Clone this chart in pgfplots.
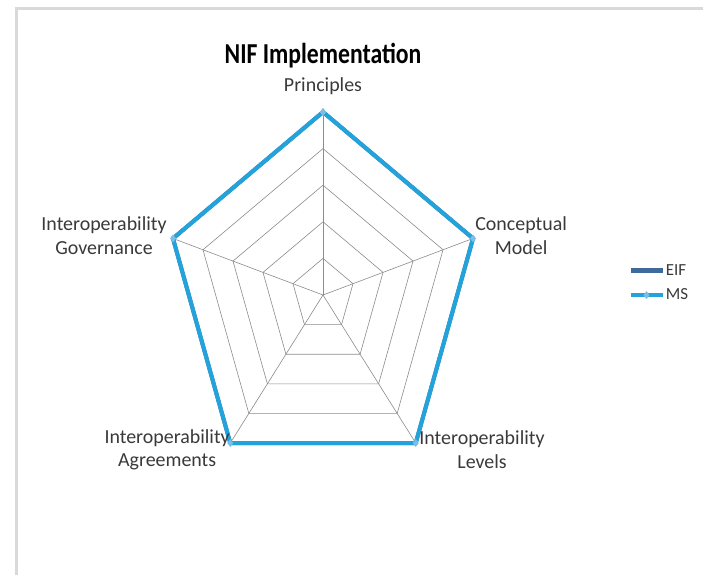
\documentclass[border=0pt]{standalone}
\usepackage{pgfplots}
\pgfplotsset{compat=1.18}
\usepackage{fontspec}
\setmainfont{Carlito}

\definecolor{msblue}{HTML}{23A3DC}
\definecolor{msmark}{HTML}{7DBDE8}
\definecolor{eifblue}{HTML}{3F6A9C}
\definecolor{gridgray}{HTML}{8C8C8C}
\definecolor{labgray}{HTML}{3A3A3A}
\definecolor{framegray}{HTML}{D9D9D9}

\begin{document}
\begin{tikzpicture}[x=1bp,y=1bp]
  \path[use as bounding box] (0,0) rectangle (703,-575);
  \clip (0,0) rectangle (703,-575);
  \fill[white] (0,0) rectangle (703,-575);
  % chart frame (cut off at right and bottom)
  \draw[framegray, line width=3bp] (16,-600) -- (16,-9) -- (720,-9);

  \node[font=\fontsize{29}{32}\selectfont\bfseries, xscale=0.82] at (323,-56) {NIF Implementation};

  \begin{axis}[
      at={(323bp,-295bp)}, anchor=origin,
      x=31.55bp, y=36.6bp,
      xmin=-5, xmax=5, ymin=-5, ymax=5,
      hide axis, clip=false,
      data cs=polar,
      legend style={at={(1.467,0.533)}, anchor=west, draw=none, fill=none,
        font=\fontsize{17}{20}\selectfont\color{labgray},
        row sep=8bp, inner sep=0pt,
        nodes={inner xsep=1bp}},
      legend cell align=left,
      legend image code/.code={
        \draw[mark repeat=2, mark phase=2, line width=4.5bp]
          plot coordinates {(0bp,0bp) (16bp,0bp) (32bp,0bp)};},
  ]
    % web grid: rings 1..5
    \addplot[gridgray, line width=0.6bp, forget plot] coordinates {(90,1) (18,1) (-54,1) (-126,1) (162,1) (90,1)};
    \addplot[gridgray, line width=0.6bp, forget plot] coordinates {(90,2) (18,2) (-54,2) (-126,2) (162,2) (90,2)};
    \addplot[gridgray, line width=0.6bp, forget plot] coordinates {(90,3) (18,3) (-54,3) (-126,3) (162,3) (90,3)};
    \addplot[gridgray, line width=0.6bp, forget plot] coordinates {(90,4) (18,4) (-54,4) (-126,4) (162,4) (90,4)};
    \addplot[gridgray, line width=0.6bp, forget plot] coordinates {(90,5) (18,5) (-54,5) (-126,5) (162,5) (90,5)};
    % spokes
    \addplot[gridgray, line width=0.6bp, forget plot] coordinates {(90,0) (90,5)};
    \addplot[gridgray, line width=0.6bp, forget plot] coordinates {(18,0) (18,5)};
    \addplot[gridgray, line width=0.6bp, forget plot] coordinates {(-54,0) (-54,5)};
    \addplot[gridgray, line width=0.6bp, forget plot] coordinates {(-126,0) (-126,5)};
    \addplot[gridgray, line width=0.6bp, forget plot] coordinates {(162,0) (162,5)};

    % EIF
    \addplot[eifblue, line width=4bp, line join=round, mark=none]
      coordinates {(90,5) (18,5) (-54,5) (-126,5) (162,5) (90,5)};
    \addlegendentry{EIF}
    % MS
    \addplot[msblue, line width=4bp, line join=round,
      mark=diamond*, mark size=3.5bp,
      mark options={fill=msmark, draw=msmark, line width=0.5bp}]
      coordinates {(90,5) (18,5) (-54,5) (-126,5) (162,5) (90,5)};
    \addlegendentry{MS}

    % category labels
    \begin{scope}[every node/.style={font=\fontsize{20}{24}\selectfont, text=labgray, align=center}]
      \node at (axis cs:0,5.71) {Principles};
      \node at (axis cs:6.28,1.61) {Conceptual\\Model};
      \node at (axis cs:-6.94,1.61) {Interoperability\\Governance};
      \node at (axis cs:-4.94,-4.23) {Interoperability\\Agreements};
      \node at (axis cs:5.04,-4.23) {Interoperability\\Levels};
    \end{scope}
  \end{axis}
\end{tikzpicture}
\end{document}
